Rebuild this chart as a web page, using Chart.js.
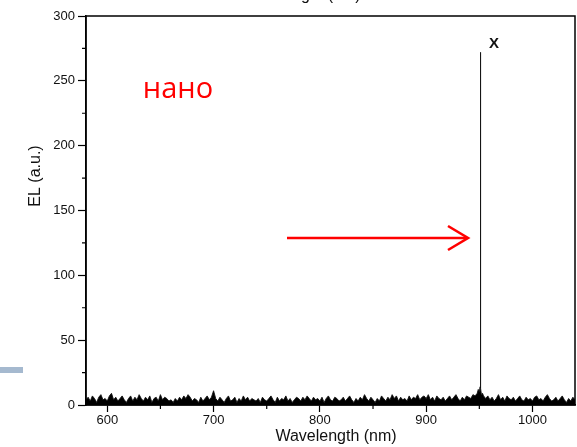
<!DOCTYPE html>
<html>
<head>
<meta charset="utf-8">
<script src="https://cdn.jsdelivr.net/npm/chart.js@4.4.1/dist/chart.umd.min.js"></script>
<style>
    html, body { margin: 0; padding: 0; background: #fff; }
    #wrap { width: 577px; height: 447px; }
</style>
</head>
<body>
<div id="wrap"><canvas id="elChart" width="577" height="447"></canvas></div>
<script>
// wavelength samples (nm)
const wavelengths = [
    580,582,584,586,588,590,592,594,596,598,600,602,604,606,608,610,612,614,616,618,
    620,622,624,626,628,630,632,634,636,638,640,642,644,646,648,650,652,654,656,658,
    660,662,664,666,668,670,672,674,676,678,680,682,684,686,688,690,692,694,696,698,
    700,702,704,706,708,710,712,714,716,718,720,722,724,726,728,730,732,734,736,738,
    740,742,744,746,748,750,752,754,756,758,760,762,764,766,768,770,772,774,776,778,
    780,782,784,786,788,790,792,794,796,798,800,802,804,806,808,810,812,814,816,818,
    820,822,824,826,828,830,832,834,836,838,840,842,844,846,848,850,852,854,856,858,
    860,862,864,866,868,870,872,874,876,878,880,882,884,886,888,890,892,894,896,898,
    900,902,904,906,908,910,912,914,916,918,920,922,924,926,928,930,932,934,936,938,
    940,942,944,946,
    948,949,950,950.7,951,951.3,952,953,954,
    956,958,960,962,964,966,968,970,972,974,976,978,980,982,984,986,988,990,992,994,
    996,998,1000,1002,1004,1006,1008,1010,1012,1014,1016,1018,1020,1022,1024,1026,1028,1030,1032,1034,1036,1038,1040
];

// EL intensity (a.u.)
const elValues = [
    4,6,3,7,5,2,6,8,4,5,3,7,9,4,6,3,5,7,4,2,
    5,7,3,6,4,8,5,3,6,4,7,2,5,6,3,8,4,6,5,3,
    4,2,5,3,6,4,7,5,8,6,3,5,4,2,6,3,5,7,4,6,
    11,5,3,6,4,2,5,7,3,4,6,2,5,3,7,4,6,3,5,4,
    3,5,2,6,4,3,5,7,4,2,6,3,5,4,7,3,5,2,4,6,
    5,3,6,4,7,5,3,6,4,5,3,6,2,5,7,4,3,6,5,3,
    4,6,3,5,7,4,2,5,3,6,4,8,5,3,6,4,2,5,3,7,
    5,3,6,4,8,5,7,3,6,4,5,3,7,4,6,5,8,4,6,7,
    5,8,4,6,3,7,5,4,6,3,5,7,4,6,8,5,3,6,4,7,
    6,5,8,7,
    9,12,10,14,272,13,8,9,7,
    5,7,4,6,3,5,8,4,6,3,7,5,4,6,3,5,7,4,3,6,
    4,5,3,6,7,4,5,3,6,8,5,3,4,6,3,5,7,4,2,5,3,6,4
];

const xMajorTicks = [600, 700, 800, 900, 1000];
const xMinorTicks = [650, 750, 850, 950];
const yMajorTicks = [0, 50, 100, 150, 200, 250, 300];
const yMinorTicks = [25, 75, 125, 175, 225, 275];

const xTitle = "Wavelength (nm)";
const yTitle = "EL (a.u.)";
const peakLabel = "X";
const noteText = "нано";

// frame, minor ticks and the hand-drawn annotations
const decorPlugin = {
    id: "decor",
    afterDraw(chart) {
        const ctx = chart.ctx;
        const area = chart.chartArea;
        const xs = chart.scales.x;
        const ys = chart.scales.y;
        ctx.save();

        // box around plot
        ctx.strokeStyle = "#000";
        ctx.lineWidth = 1.5;
        ctx.strokeRect(area.left, area.top, area.right - area.left, area.bottom - area.top);

        // minor ticks
        ctx.lineWidth = 1.2;
        ctx.beginPath();
        xMinorTicks.forEach(v => {
            const px = xs.getPixelForValue(v);
            ctx.moveTo(px, area.bottom);
            ctx.lineTo(px, area.bottom + 4);
        });
        yMinorTicks.forEach(v => {
            const py = ys.getPixelForValue(v);
            ctx.moveTo(area.left, py);
            ctx.lineTo(area.left - 4, py);
        });
        ctx.stroke();

        // axis titles
        ctx.fillStyle = "#111";
        ctx.font = "16px 'Liberation Sans', Arial, sans-serif";
        ctx.textAlign = "center";
        ctx.textBaseline = "middle";
        ctx.fillText(xTitle, 336, 437);
        ctx.save();
        ctx.translate(36, 176);
        ctx.rotate(-Math.PI / 2);
        ctx.fillText(yTitle, 0, 0);
        ctx.restore();

        // cut off title at the very top
        ctx.textBaseline = "alphabetic";
        ctx.fillText(xTitle, 300, 0);

        // peak label
        ctx.font = "bold 15px 'Liberation Sans', Arial, sans-serif";
        ctx.fillText(peakLabel, 494, 48);

        // red note
        ctx.fillStyle = "#ff0000";
        ctx.font = "29px 'Open Sans', 'Noto Sans', sans-serif";
        ctx.fillText(noteText, 178, 98);

        // red arrow
        ctx.strokeStyle = "#ff0000";
        ctx.lineWidth = 2.6;
        ctx.lineCap = "butt";
        ctx.beginPath();
        ctx.moveTo(287, 238);
        ctx.lineTo(467, 238);
        ctx.stroke();
        ctx.beginPath();
        ctx.moveTo(448, 226);
        ctx.lineTo(468, 238);
        ctx.lineTo(448, 250);
        ctx.stroke();

        // stray bluish bar on the left
        ctx.fillStyle = "#a5b9cf";
        ctx.fillRect(0, 367, 23, 6);

        ctx.restore();
    }
};

new Chart(document.getElementById("elChart"), {
    type: "line",
    data: {
        datasets: [
            {
                data: wavelengths.map((w, i) => ({ x: w, y: elValues[i] })),
                borderColor: "#111",
                backgroundColor: "#000",
                borderWidth: 0.9,
                pointRadius: 0,
                fill: "origin",
                tension: 0,
            },
        ],
    },
    options: {
        responsive: false,
        animation: false,
        layout: {
            padding: { top: 16, right: 2, left: 0, bottom: 0 },
        },
        plugins: {
            legend: { display: false },
            tooltip: { enabled: false },
        },
        scales: {
            x: {
                type: "linear",
                min: 580,
                max: 1040,
                afterBuildTicks: (s) => {
                    s.ticks = xMajorTicks.map(v => ({ value: v }));
                },
                afterFit: (s) => { s.height = 42; },
                grid: {
                    drawOnChartArea: false,
                    tickLength: 7,
                    tickColor: "#000",
                    tickWidth: 1.2,
                },
                border: { color: "#000", width: 1.5 },
                ticks: {
                    color: "#111",
                    font: { family: "'Liberation Sans', Arial, sans-serif", size: 13 },
                    padding: 1,
                    maxRotation: 0,
                    callback: (v) => String(v),
                },
            },
            y: {
                min: 0,
                max: 300,
                afterBuildTicks: (s) => {
                    s.ticks = yMajorTicks.map(v => ({ value: v }));
                },
                afterFit: (s) => { s.width = 86; },
                grid: {
                    drawOnChartArea: false,
                    tickLength: 8,
                    tickColor: "#000",
                    tickWidth: 1.2,
                },
                border: { color: "#000", width: 1.5 },
                ticks: {
                    color: "#111",
                    font: { family: "'Liberation Sans', Arial, sans-serif", size: 13 },
                    padding: 3,
                    callback: (v) => String(v),
                },
            },
        },
    },
    plugins: [decorPlugin],
});
</script>
</body>
</html>
